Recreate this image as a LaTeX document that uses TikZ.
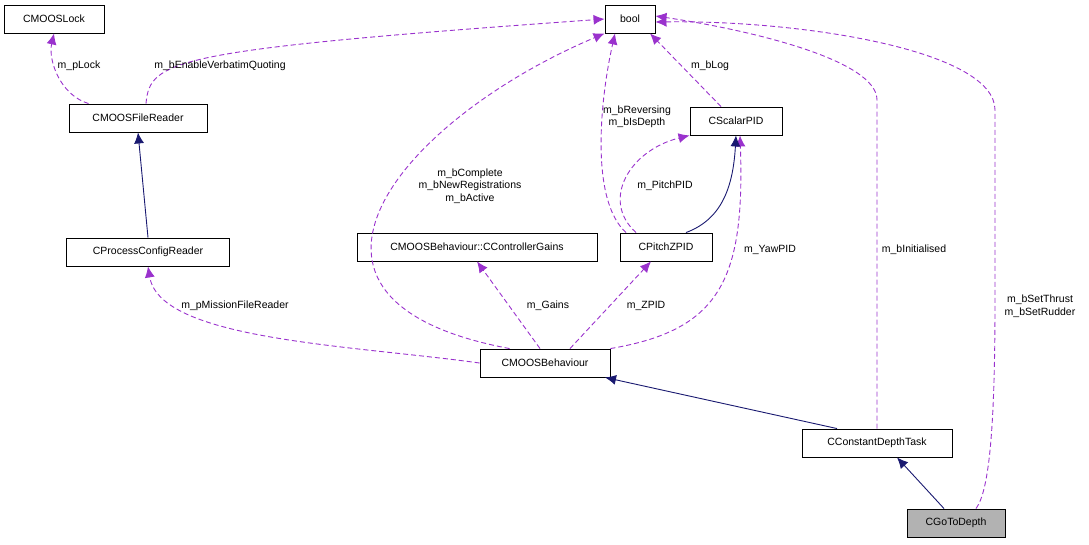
\documentclass[tikz,border=0pt]{standalone}
\usepackage{fontspec}
\setmainfont{Liberation Sans}
\usetikzlibrary{arrows.meta}
\definecolor{purp}{HTML}{9A32CD}
\definecolor{navy}{HTML}{191970}
\begin{document}
\begin{tikzpicture}[x=1pt,y=-1pt,font=\fontsize{10.5}{12.5}\selectfont,
 box/.style={draw,line width=0.9pt,minimum height=28pt,inner sep=2pt,fill=white},
 use/.style={purp,line width=0.9pt,dash pattern=on 5pt off 3pt,-{Latex[length=11pt,width=10pt]}},
 inh/.style={navy,line width=0.9pt,-{Latex[length=11pt,width=10pt]}},
 lab/.style={align=center,inner sep=1pt}]
\useasboundingbox (0,0) rectangle (1089,544);
\node[box,minimum width=100pt] (lock) at (54,19) {CMOOSLock};
\node[box,minimum width=50pt] (bool) at (630,19) {bool};
\node[box,minimum width=138pt] (fr) at (138,118) {CMOOSFileReader};
\node[box,minimum width=92pt] (spid) at (736,121) {CScalarPID};
\node[box,minimum width=163pt] (pcr) at (148,252) {CProcessConfigReader};
\node[box,minimum width=240pt] (gains) at (477,247) {CMOOSBehaviour::CControllerGains};
\node[box,minimum width=92pt] (pz) at (666,247) {CPitchZPID};
\node[box,minimum width=130pt] (beh) at (545,363) {CMOOSBehaviour};
\node[box,minimum width=150pt] (cdt) at (877,443) {CConstantDepthTask};
\node[box,minimum width=98pt,fill=gray!60] (gtd) at (956,523) {CGoToDepth};

\draw[use] (fr.north west)++(20,0) coordinate (a1) .. controls (60,95) and (48,60) .. (lock.south);
\draw[use] (fr.north)++(8,0) coordinate (a2) .. controls (150,60) and (170,50) .. (bool.west);
\draw[inh] (pcr.north) -- (fr.south);
\draw[use] (beh.west) .. controls (350,345) and (160,340) .. (pcr.south);
\draw[use] (beh.north west)++(30,0) coordinate (a3) .. controls (250,300) and (400,120) .. (bool.south west);
\draw[use] (beh.north)++(-5,0) coordinate (a4) -- (gains.south);
\draw[use] (beh.north)++(25,0) coordinate (a5) -- ([xshift=-15pt]pz.south);
\draw[use] (beh.north east) .. controls (720,330) and (745,280) .. ([xshift=4pt]spid.south);
\draw[use] ([xshift=-15pt]spid.north) -- ([xshift=20pt]bool.south);
\draw[use] ([xshift=-40pt]pz.north) .. controls (590,200) and (600,100) .. ([xshift=-15pt]bool.south);
\draw[use] ([xshift=-30pt]pz.north) .. controls (600,200) and (630,150) .. (spid.south west);
\draw[inh] ([xshift=20pt]pz.north) .. controls (720,220) and (733,190) .. (spid.south);
\draw[inh] ([xshift=-40pt]cdt.north) -- ([xshift=60pt]beh.south);
\draw[use] (cdt.north) -- (877,100) .. controls (877,60) and (750,30) .. ([yshift=3pt]bool.east);
\draw[use] ([xshift=20pt]gtd.north) .. controls (990,490) and (995,420) .. (995,300) -- (995,110) .. controls (995,50) and (800,20) .. ([yshift=-3pt]bool.east);
\draw[inh] ([xshift=-12pt]gtd.north) -- ([xshift=20pt]cdt.south);

\node[lab] (l1) at (79,66) {m\_pLock};
\node[lab] (l2) at (220,66) {m\_bEnableVerbatimQuoting};
\node[lab] (l3) at (470,186) {m\_bComplete\\m\_bNewRegistrations\\m\_bActive};
\node[lab] (l4) at (235,306) {m\_pMissionFileReader};
\node[lab] (l5) at (548,306) {m\_Gains};
\node[lab] (l6) at (646,306) {m\_ZPID};
\node[lab] (l7) at (770,250) {m\_YawPID};
\node[lab] (l8) at (710,66) {m\_bLog};
\node[lab] (l9) at (637,117) {m\_bReversing\\m\_bIsDepth};
\node[lab] (l10) at (665,186) {m\_PitchPID};
\node[lab] (l11) at (914,250) {m\_bInitialised};
\node[lab] (l12) at (1040,306) {m\_bSetThrust\\m\_bSetRudder};
\end{tikzpicture}
\end{document}
